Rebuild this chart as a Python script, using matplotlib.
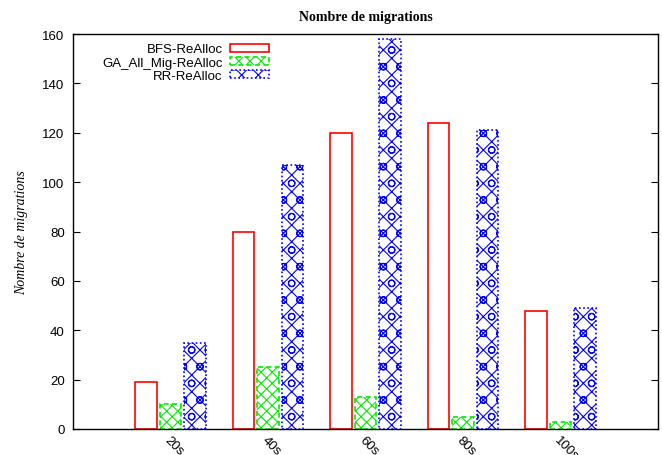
import matplotlib
matplotlib.use("Agg")
import matplotlib.pyplot as plt
import numpy as np

categories = ["20s", "40s", "60s", "80s", "100s"]
bfs = [19, 80, 120, 124, 48]
ga = [10, 25, 13, 5, 3]
rr = [35, 107, 158, 121, 49]
series_names = ["BFS-ReAlloc", "GA_All_Mig-ReAlloc", "RR-ReAlloc"]

plt.rcParams["hatch.linewidth"] = 0.8
plt.rcParams["font.family"] = ["Liberation Sans", "DejaVu Sans"]

fig = plt.figure(figsize=(6.62, 4.56), dpi=100)
ax = fig.add_axes([73 / 662, 26 / 456, 585 / 662, 395 / 456])

x = np.arange(len(categories))
w = 0.22
off = 0.25

ax.bar(x - off, bfs, w, facecolor="white", edgecolor="#ff0000", linewidth=1.2,
       label=series_names[0])
ax.bar(x, ga, w, facecolor="white", edgecolor="#00ee00", linewidth=1.2,
       linestyle=(0, (3, 2)), hatch="xxx", label=series_names[1])
ax.bar(x + off, rr, w, facecolor="white", edgecolor="#0000ff", linewidth=1.2,
       linestyle=(0, (1, 1.5)), hatch="xxo", label=series_names[2])

ax.set_xlim(-1, 5)
ax.set_ylim(0, 160)
ax.set_yticks(np.arange(0, 161, 20))
ax.set_xticks(x)
ax.set_xticklabels(categories, rotation=-45, ha="left", va="top",
                   rotation_mode="anchor")
ax.tick_params(axis="y", direction="in", right=True, length=5, labelsize=9.5, pad=6)
ax.tick_params(axis="x", length=0, labelsize=9.5, pad=3)
for s in ax.spines.values():
    s.set_linewidth(1.0)

ax.set_title("Nombre de migrations", fontfamily="Liberation Serif",
             fontweight="bold", fontsize=10, pad=10)
ax.set_ylabel("Nombre de migrations", fontfamily="Liberation Serif",
              fontstyle="italic", fontsize=10, labelpad=10)

leg = ax.legend(loc="upper left", bbox_to_anchor=(0.034, 1.0), frameon=False,
                markerfirst=False, fontsize=9.5, handlelength=3.0,
                handleheight=0.55, labelspacing=0.1, borderaxespad=0.3,
                handletextpad=0.55)
for t in leg.get_texts():
    t.set_ha("right")

fig.savefig("out.png", dpi=100)
